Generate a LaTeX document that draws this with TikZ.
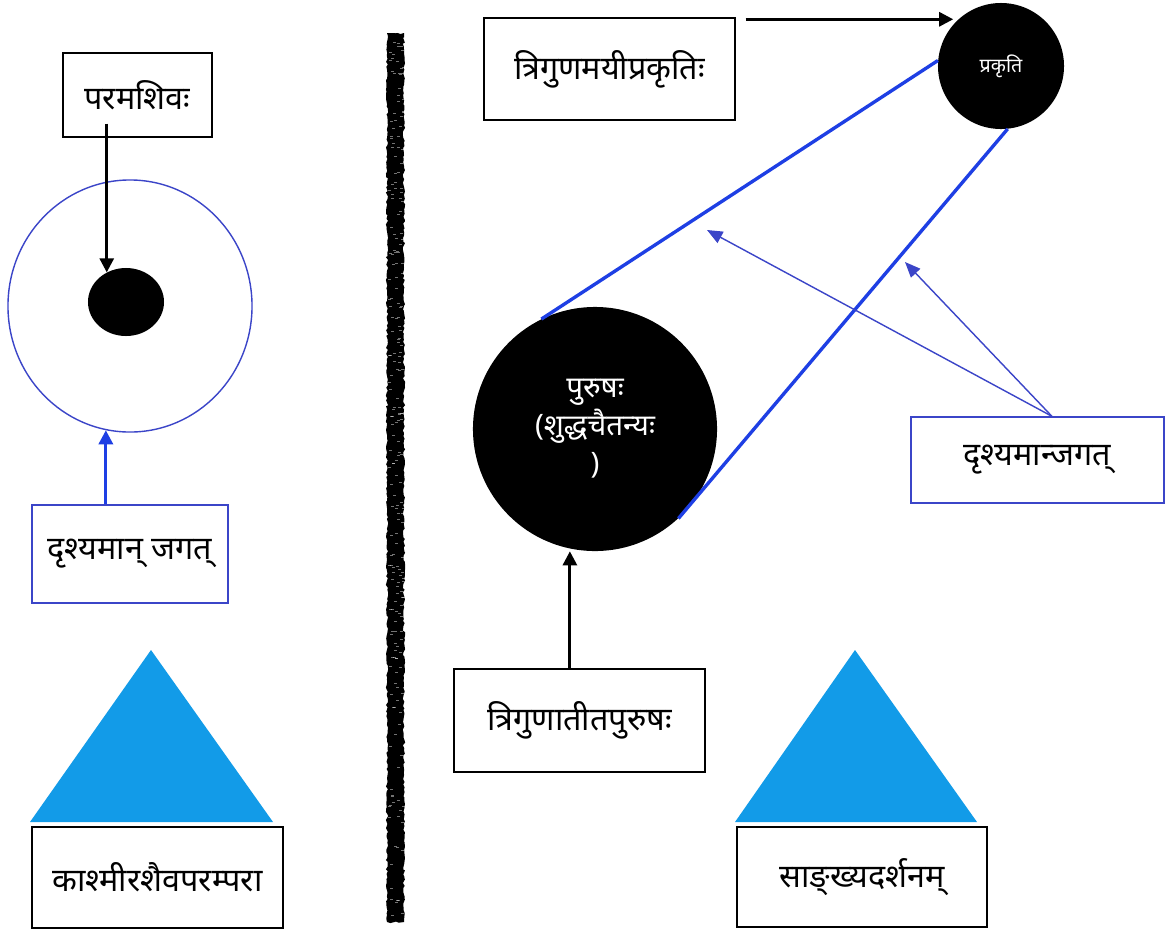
\documentclass[tikz,border=0pt]{standalone}
\usepackage{fontspec}
\newfontfamily\deva[Script=Devanagari]{Noto Sans}
\usepackage{xcolor}
\usepackage{tikz}
\usetikzlibrary{calc,arrows.meta,shapes.geometric,decorations.pathmorphing}
\definecolor{ink}{HTML}{000000}
\definecolor{ringblue}{HTML}{3B45C8}
\definecolor{lineblue}{HTML}{1E3FE4}
\definecolor{triblue}{HTML}{129BE8}
\tikzset{
  box/.style={draw=ink, line width=1pt, rectangle, inner sep=0pt, font=\deva\fontsize{23}{27}\selectfont},
  bbox/.style={box, draw=ringblue},
  disc/.style={fill=ink, text=white, inner sep=0pt, align=center},
  blkarr/.style={draw=ink, line width=2pt, -{Triangle[length=10pt,width=10pt]}},
  bluarr/.style={draw=lineblue, line width=2.2pt, -{Triangle[length=10pt,width=10pt]}},
  thinarr/.style={draw=ringblue, line width=1pt, -{Triangle[length=11pt,width=9pt]}},
  bline/.style={draw=lineblue, line width=2.4pt},
  tri/.style={fill=triblue},
}
\begin{document}
\begin{tikzpicture}[x=0.025cm,y=-0.025cm]
  \useasboundingbox[fill=white] (0,0) rectangle (1167,930);

  % left side: Kashmir Shaivism
  \node[box, minimum width=3.725cm, minimum height=2.1cm] (shiva) at (137.5,95) {परमशिवः};
  \node[draw=ringblue, line width=1pt, ellipse, minimum width=6.1cm, minimum height=6.3cm] (ring) at (130,306) {};
  \node[disc, ellipse, minimum width=1.9cm, minimum height=1.7cm] (bindu) at (126,302) {};
  \node[bbox, minimum width=4.9cm, minimum height=2.45cm] (jagatL) at (130,554) {दृश्यमान् जगत्};
  \fill[tri] (30,822) -- (151,650) -- (273,822) -- cycle;
  \node[box, minimum width=6.275cm, minimum height=2.525cm] (kashmir) at (157.5,877.5) {काश्मीरशैवपरम्परा};

  \draw[blkarr] ([yshift=0.35cm]shiva.south -| bindu.123) -- (bindu.123);
  \draw[bluarr] (jagatL.north -| ring.259) -- (ring.259);

  % divider
  \fill[ink, decorate, decoration={random steps, segment length=2pt, amplitude=0.8pt}]
    (387,33) rectangle (404,922);
  \foreach \i in {1,...,220}{
    \fill[white, opacity=0.45] ({395+rand*7},{478+rand*440}) rectangle ++(3,1);
  }

  % right side: Sankhya
  \node[box, minimum width=6.275cm, minimum height=2.55cm] (trimayi) at (609.5,69) {त्रिगुणमयीप्रकृतिः};
  \node[disc, circle, minimum size=3.15cm, font=\deva\fontsize{14}{16}\selectfont] (prakriti) at (1001,66) {प्रकृति};
  \node[disc, circle, minimum size=6.1cm, font=\deva\fontsize{21}{27}\selectfont] (purusha) at (595,429) {पुरुषः\\(शुद्धचैतन्यः\\)};
  \node[bbox, minimum width=6.325cm, minimum height=2.15cm] (jagatR) at (1037.5,460) {दृश्यमान्जगत्};
  \node[box, minimum width=6.275cm, minimum height=2.575cm] (atita) at (579.5,720.5) {त्रिगुणातीतपुरुषः};
  \fill[tri] (735,822) -- (855,650) -- (977,822) -- cycle;
  \node[box, minimum width=6.25cm, minimum height=2.5cm] (sankhya) at (862,877) {साङ्ख्यदर्शनम्};

  \coordinate (top) at ([xshift=0.25cm,yshift=-0.05cm]trimayi.north east);
  \draw[blkarr] (top) -- (top -| prakriti.139);
  \draw[bline] (purusha.116) -- (prakriti.175);
  \draw[bline] (purusha.313) -- (prakriti.276);

  \coordinate (tipA) at (707,230);
  \coordinate (tipB) at (905,262);
  \draw[thinarr] ([xshift=0.36cm]jagatR.north) -- (tipA);
  \draw[thinarr] ([xshift=0.36cm]jagatR.north) -- (tipB);

  \coordinate (up) at ([xshift=-0.24cm]atita.north);
  \draw[blkarr] (up) -- (up |- purusha.south);
\end{tikzpicture}
\end{document}
